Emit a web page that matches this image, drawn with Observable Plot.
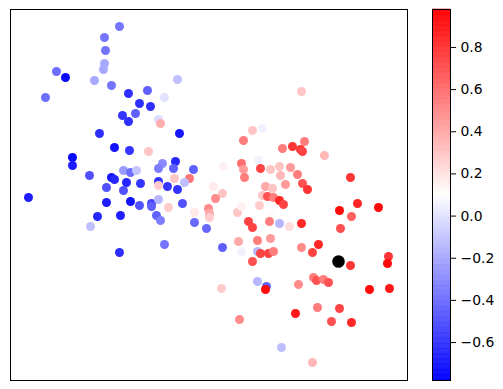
<!DOCTYPE html>
<html>
<head>
<meta charset="utf-8">
<script src="https://cdn.jsdelivr.net/npm/d3@7"></script>
<script src="https://cdn.jsdelivr.net/npm/@observablehq/plot@0.6"></script>
<style>
  html, body { margin: 0; padding: 0; background: #fff; }
  #wrap { position: relative; width: 503px; height: 389px; font-family: "DejaVu Sans", sans-serif; }
  #wrap > div, #wrap > svg { position: absolute; top: 0; }
</style>
</head>
<body>
<div id="wrap"></div>
<script>
// Point positions (arbitrary units) and colour values
const xs = [119,104,105,104,103,56,65,94,111,177,45,128,147,139,150,164,122,135,128,158,160,99,179,114,129,148,72,72,89,111,114,123,130,136,126,140,106,123,28,106,130,139,151,151,97,120,90,156,160,119,164,162,158,175,173,193,189,174,184,158,158,167,177,158,168,182,194,194,206,222,
  223,213,222,215,208,209,209,237,241,301,252,262,243,282,292,304,300,302,324,241,258,243,244,260,270,279,290,280,297,302,307,350,285,265,272,262,267,273,279,283,259,270,248,252,269,279,289,301,339,351,357,378,340,238,241,257,270,257,260,268,273,252,301,318,312,350,388,387,221,257,266,265,298,313,316,323,328,369,389,317,339,295,331,351,239,281,312];
const ys = [26,37,50,63,69,71,77,80,85,79,97,93,90,103,106,97,115,113,121,119,123,133,133,147,150,151,157,165,175,177,179,170,172,170,182,183,187,190,197,202,201,205,203,206,216,215,226,215,220,252,244,163,168,161,168,169,178,178,182,181,185,186,189,199,207,203,212,222,228,247,
  166,186,193,198,208,213,217,212,206,91,130,128,140,148,146,141,149,151,155,163,160,169,177,168,169,166,167,175,174,183,189,177,184,186,188,195,196,197,200,204,205,214,221,227,221,223,226,223,210,216,203,207,228,241,251,240,238,251,253,253,251,261,247,244,252,265,256,263,288,281,286,289,284,277,280,279,282,289,288,307,308,313,321,322,319,347,362];
const vals = [-0.38,-0.38,-0.38,-0.2,-0.2,-0.4,-0.75,-0.2,-0.38,-0.12,-0.4,-0.62,-0.45,-0.62,-0.62,0.0,-0.6,-0.45,-0.62,-0.02,0.38,-0.62,-0.7,-0.72,-0.6,0.3,-0.75,-0.68,-0.5,-0.7,-0.65,-0.25,-0.4,-0.1,-0.65,-0.6,-0.5,-0.5,-0.68,-0.68,-0.72,-0.5,-0.55,-0.45,-0.65,-0.68,-0.12,-0.45,-0.35,-0.62,-0.38,-0.3,-0.35,-0.65,-0.45,-0.45,0.58,0.3,-0.12,-0.6,0.28,-0.6,-0.6,-0.15,0.28,-0.5,0.18,-0.42,-0.42,-0.45,
  0.15,0.17,0.3,0.5,0.5,0.4,0.28,0.3,0.15,0.3,0.3,0.05,0.55,0.55,0.8,0.55,0.8,0.75,0.35,0.6,0.05,0.45,0.55,0.75,0.3,0.3,0.45,0.35,0.55,0.7,0.8,0.8,0.45,0.4,0.3,0.3,0.7,0.55,0.85,0.75,0.28,0.12,0.75,0.75,0.55,-0.15,0.22,0.85,0.95,0.65,0.85,0.95,0.7,0.4,0.05,0.55,0.45,-0.15,0.75,0.75,0.55,0.7,0.5,0.85,0.75,0.8,0.8,0.95,0.28,-0.15,-0.45,0.95,0.5,0.55,0.7,0.55,0.7,0.95,0.9,0.55,0.75,0.9,0.7,0.85,0.5,-0.12,0.35];
// Highlighted (black) point
const highlightX = [338];
const highlightY = [261];
// Colour bar range and ticks
const colorMin = -0.78, colorMax = 0.98;
const colorTicks = [-0.6, -0.4, -0.2, 0.0, 0.2, 0.4, 0.6, 0.8];

const points = xs.map((x, i) => ({x, y: ys[i], v: vals[i]}));
const highlight = highlightX.map((x, i) => ({x, y: highlightY[i]}));

const colorScale = {
  type: "linear",
  domain: [colorMin, (colorMin + colorMax) / 2, colorMax],
  range: ["#0000ff", "#ffffff", "#ff0000"],
  interpolate: "rgb"
};

const main = Plot.plot({
  width: 503, height: 389,
  marginLeft: 10, marginRight: 96, marginTop: 9, marginBottom: 9,
  x: {domain: [10, 407], axis: null},
  y: {domain: [380, 9], axis: null},
  color: colorScale,
  style: {background: "transparent"},
  marks: [
    Plot.dot(points, {x: "x", y: "y", fill: "v", r: 4.5}),
    Plot.dot(highlight, {x: "x", y: "y", fill: "black", r: 6.3}),
    Plot.frame({stroke: "black", strokeWidth: 1})
  ]
});

const n = 300;
const step = (colorMax - colorMin) / n;
const bands = d3.range(n).map(i => ({y1: colorMin + i * step, y2: colorMin + (i + 1) * step, v: colorMin + (i + 0.5) * step}));

const bar = Plot.plot({
  width: 71, height: 389,
  marginLeft: 0, marginRight: 53, marginTop: 9, marginBottom: 9,
  x: {domain: [0, 1], axis: null},
  y: {domain: [colorMin, colorMax], axis: "right", ticks: colorTicks, tickSize: 5, tickPadding: 5,
      tickFormat: d3.format(".1f"), label: null},
  color: colorScale,
  style: {background: "transparent", fontSize: "13.9px", fontFamily: "DejaVu Sans", color: "#000"},
  marks: [
    Plot.rect(bands, {x1: 0, x2: 1, y1: "y1", y2: "y2", fill: "v", stroke: "v", strokeWidth: 0.6}),
    Plot.frame({stroke: "black", strokeWidth: 1})
  ]
});

const wrap = document.getElementById("wrap");
main.style.left = "0px";
bar.style.left = "432px";
wrap.appendChild(main);
wrap.appendChild(bar);
</script>
</body>
</html>
